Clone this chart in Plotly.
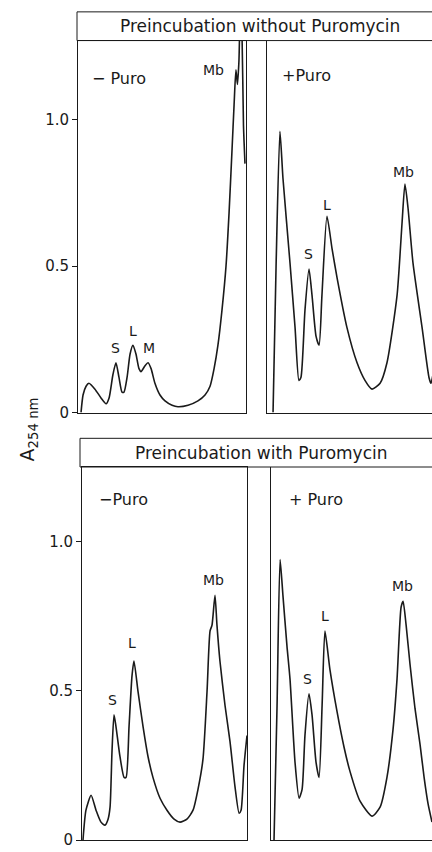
import plotly.graph_objects as go

# Sucrose gradient profiles, A254 nm vs position in gradient (arbitrary units)

# Preincubation without puromycin, -Puro
x_a = [1.8, 3.0, 4.8, 6.5, 10.1, 13.7, 16.7, 18.5, 20.8, 22.6, 24.4, 26.2, 27.4, 29.2,
       31.0, 32.7, 34.5, 36.3, 37.5, 39.9, 41.7, 43.5, 45.8, 48.8, 51.8, 56.0, 59.5,
       65.5, 71.4, 75.6, 78.6, 81.0, 83.3, 85.7, 88.1, 89.9, 91.7, 92.9, 94.0, 94.9,
       95.8, 96.7, 97.6, 98.5, 99.4]
y_a = [0.0, 0.06, 0.09, 0.10, 0.08, 0.05, 0.03, 0.05, 0.13, 0.17, 0.12, 0.07, 0.07, 0.12,
       0.20, 0.23, 0.20, 0.15, 0.14, 0.16, 0.17, 0.15, 0.10, 0.06, 0.04, 0.025, 0.02,
       0.025, 0.04, 0.06, 0.09, 0.15, 0.23, 0.35, 0.50, 0.68, 0.90, 1.05, 1.17, 1.12,
       1.20, 1.40, 1.30, 0.98, 0.85]

# Preincubation without puromycin, +Puro
x_b = [3.6, 5.4, 7.7, 9.5, 13.7, 16.7, 19.0, 20.2, 22.6, 25.0, 26.8, 29.2, 31.0, 32.7,
       35.7, 38.7, 41.7, 47.6, 53.6, 58.3, 62.5, 67.3, 71.4, 77.4, 80.4, 82.1, 83.9,
       86.9, 92.3, 96.4, 97.6, 98.8]
y_b = [0.0, 0.50, 0.96, 0.80, 0.51, 0.29, 0.11, 0.12, 0.35, 0.49, 0.40, 0.26, 0.23, 0.40,
       0.67, 0.56, 0.46, 0.29, 0.17, 0.11, 0.08, 0.10, 0.17, 0.40, 0.65, 0.78, 0.70,
       0.51, 0.29, 0.12, 0.10, 0.13]

# Preincubation with puromycin, -Puro
x_c = [0.6, 2.4, 5.5, 8.5, 11.5, 13.9, 15.8, 17.0, 18.2, 19.4, 20.6, 23.0, 25.5, 26.7,
       28.5, 30.3, 31.5, 33.9, 37.0, 40.0, 43.0, 47.3, 51.5, 55.8, 59.4, 63.6, 67.3,
       70.3, 73.3, 75.8, 77.6, 78.8, 80.6, 81.8, 83.6, 86.7, 89.7, 92.7, 95.2, 96.4,
       98.2, 100.0]
y_c = [0.0, 0.10, 0.15, 0.10, 0.06, 0.05, 0.07, 0.11, 0.30, 0.42, 0.38, 0.28, 0.21, 0.21,
       0.38, 0.55, 0.60, 0.50, 0.38, 0.28, 0.21, 0.14, 0.10, 0.07, 0.06, 0.07, 0.10,
       0.17, 0.27, 0.50, 0.70, 0.72, 0.82, 0.72, 0.60, 0.45, 0.33, 0.18, 0.09, 0.10,
       0.25, 0.35]

# Preincubation with puromycin, +Puro
x_d = [1.8, 3.6, 5.4, 7.1, 9.5, 11.3, 14.3, 16.7, 18.5, 20.2, 22.6, 24.4, 26.8, 28.6,
       30.4, 32.1, 35.1, 39.3, 43.5, 47.0, 53.0, 60.1, 64.9, 69.0, 72.6, 75.0, 77.4,
       78.6, 80.4, 82.7, 85.7, 88.7, 91.1, 93.5, 95.8]
y_d = [0.0, 0.45, 0.94, 0.82, 0.65, 0.54, 0.26, 0.14, 0.17, 0.35, 0.49, 0.42, 0.26, 0.21,
       0.45, 0.70, 0.57, 0.43, 0.31, 0.23, 0.13, 0.08, 0.11, 0.21, 0.37, 0.54, 0.78,
       0.80, 0.72, 0.59, 0.44, 0.32, 0.21, 0.12, 0.06]

tick_vals = [0, 0.5, 1.0]
tick_text = ["0", "0.5", "1.0"]

INK = "#1a1a1a"
FONT = "DejaVu Sans"
W, H = 432, 852


def px(x):
    return x / W


def py(y):
    return 1 - y / H


fig = go.Figure()

curves = [(x_a, y_a, "x", "y"), (x_b, y_b, "x2", "y2"),
          (x_c, y_c, "x3", "y3"), (x_d, y_d, "x4", "y4")]
for xs, ys, xa, ya in curves:
    fig.add_trace(go.Scatter(x=xs, y=ys, xaxis=xa, yaxis=ya, mode="lines",
                             line=dict(color=INK, width=1.6, shape="spline", smoothing=0.6),
                             hoverinfo="skip", showlegend=False))

axis_common = dict(showgrid=False, zeroline=False, linecolor=INK, linewidth=1)
xdom = {"xaxis": [px(78), px(246)], "xaxis2": [px(267), 1.0],
        "xaxis3": [px(82), px(247)], "xaxis4": [px(271), 1.0]}
xrng = {"xaxis": [0, 100], "xaxis2": [0, 98.2], "xaxis3": [0, 100], "xaxis4": [0, 95.8]}
ydom_top = [py(417), py(41)]
ydom_bot = [py(849), py(472)]

layout = dict(width=W, height=H, margin=dict(l=0, r=0, t=0, b=0),
              paper_bgcolor="white", plot_bgcolor="white",
              font=dict(family=FONT, color=INK))

for i, name in enumerate(["xaxis", "xaxis2", "xaxis3", "xaxis4"]):
    left_panel = name in ("xaxis", "xaxis3")
    layout[name] = dict(axis_common, domain=xdom[name], range=xrng[name], showline=True,
                        mirror=left_panel, showticklabels=False, ticks="",
                        anchor="y" if i == 0 else f"y{i + 1}")

for i, name in enumerate(["yaxis", "yaxis2", "yaxis3", "yaxis4"]):
    top = i < 2
    left_panel = i in (0, 2)
    ax = dict(axis_common, domain=ydom_top if top else ydom_bot,
              range=[0, 1.27] if top else [0, 1.25], showline=True,
              mirror=left_panel, anchor="x" if i == 0 else f"x{i + 1}",
              showticklabels=left_panel, ticks="outside" if left_panel else "")
    if left_panel:
        ax.update(tickvals=tick_vals, ticktext=tick_text, ticklen=5, tickcolor=INK,
                  tickfont=dict(size=15, family=FONT, color=INK))
    layout[name] = ax

fig.update_layout(**layout)

# header boxes
for y0, y1, x0 in [(12, 41, 77), (443, 472, 80)]:
    fig.add_shape(type="rect", xref="paper", yref="paper", x0=px(x0), x1=1.01,
                  y0=py(y1), y1=py(y0), line=dict(color=INK, width=1))

headers = [(260, 26.5, "Preincubation without Puromycin"),
           (261, 457.5, "Preincubation with Puromycin")]
for hx, hy, t in headers:
    fig.add_annotation(x=px(hx), y=py(hy), xref="paper", yref="paper", text=t,
                       showarrow=False, xanchor="center", yanchor="middle",
                       font=dict(size=17, family=FONT, color=INK))

# y axis title
fig.add_annotation(x=px(28), y=py(434), xref="paper", yref="paper",
                   text="A<sub>254 nm</sub>",
                   textangle=-90, showarrow=False, xanchor="center", yanchor="middle",
                   font=dict(size=19, family=FONT, color=INK))

# panel labels
panel_labels = [
    ("x", "y", 7, 1.14, "\u2212 Puro"),
    ("x2", "y2", 7.7, 1.15, "+Puro"),
    ("x3", "y3", 9, 1.14, "\u2212Puro"),
    ("x4", "y4", 9.5, 1.14, "+ Puro"),
]
for xa, ya, x, y, t in panel_labels:
    fig.add_annotation(x=x, xref=xa, y=y, yref=ya, text=t, showarrow=False,
                       xanchor="left", yanchor="middle",
                       font=dict(size=16, family=FONT, color=INK))

peak_labels = [
    ("x", "y", 22.6, 0.22, "S"), ("x", "y", 32.5, 0.28, "L"), ("x", "y", 42.0, 0.22, "M"),
    ("x", "y", 80.5, 1.17, "Mb"),
    ("x2", "y2", 24.6, 0.54, "S"), ("x2", "y2", 35.7, 0.71, "L"), ("x2", "y2", 81.5, 0.82, "Mb"),
    ("x3", "y3", 18.2, 0.47, "S"), ("x3", "y3", 30.3, 0.66, "L"), ("x3", "y3", 79.4, 0.87, "Mb"),
    ("x4", "y4", 22.0, 0.54, "S"), ("x4", "y4", 32.1, 0.75, "L"), ("x4", "y4", 78.0, 0.85, "Mb"),
]
for xa, ya, x, y, t in peak_labels:
    fig.add_annotation(x=x, xref=xa, y=y, yref=ya, text=t, showarrow=False,
                       xanchor="center", yanchor="middle",
                       font=dict(size=14, family=FONT, color=INK))

# page body has an 8px default margin; remove it so the figure fills the window
fig.write_html("out.html", config={"displayModeBar": False},
               post_script="document.body.style.margin='0';")
